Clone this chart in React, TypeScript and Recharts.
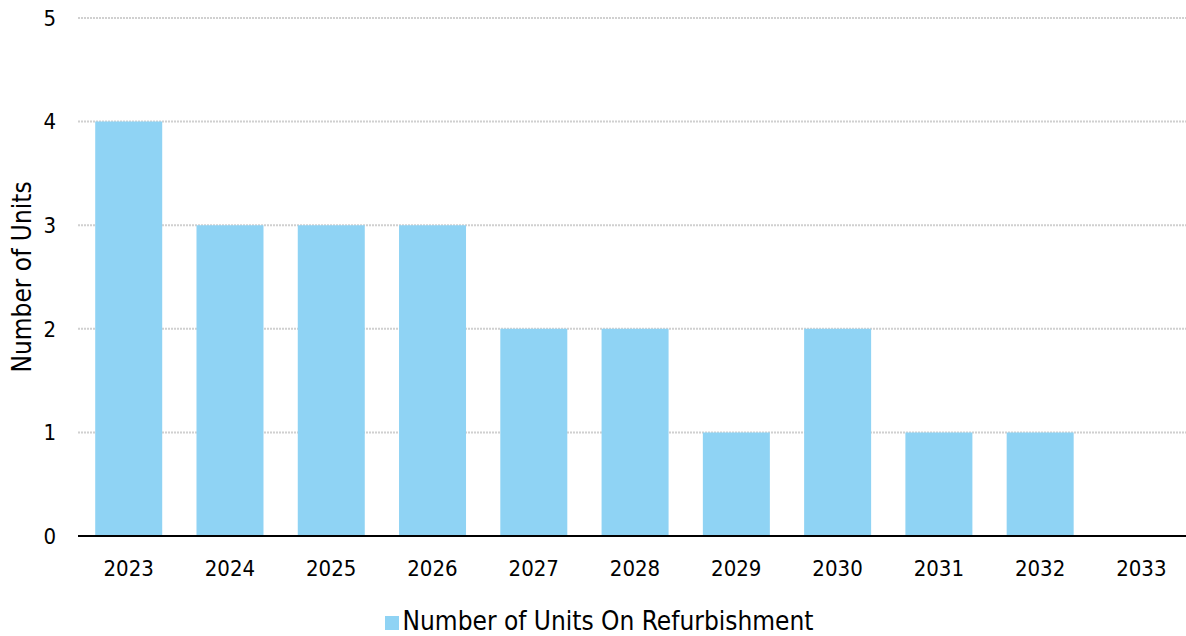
import React from "react";
import {
  BarChart,
  Bar,
  XAxis,
  YAxis,
  CartesianGrid,
  Legend,
} from "recharts";

const years = [
  "2023", "2024", "2025", "2026", "2027", "2028",
  "2029", "2030", "2031", "2032", "2033",
];
const unitsOnRefurbishment = [4, 3, 3, 3, 2, 2, 1, 2, 1, 1, 0];
const yTicks = [0, 1, 2, 3, 4, 5];

const data = years.map((year, i) => ({
  year,
  units: unitsOnRefurbishment[i],
}));

const font = "'DejaVu Sans Condensed', 'DejaVu Sans', sans-serif";

export default function App() {
  return (
    <div
      style={{
        position: "absolute",
        left: 0,
        top: 0,
        width: 1186,
        height: 636,
        overflow: "hidden",
        fontFamily: font,
      }}
    >
      <BarChart
        width={1192}
        height={636}
        data={data}
        margin={{ top: 18, right: 0, bottom: 0, left: 0 }}
        barCategoryGap="17%"
      >
        <CartesianGrid
          vertical={false}
          stroke="#d0d0d0"
          strokeWidth={2}
          strokeDasharray="2 1"
        />
        <XAxis
          dataKey="year"
          tickLine={false}
          axisLine={{ stroke: "#000", strokeWidth: 2 }}
          tick={{ fill: "#000", fontSize: 22, fontFamily: font }}
          tickMargin={18}
          height={70}
        />
        <YAxis
          domain={[0, 5]}
          ticks={yTicks}
          tickLine={false}
          axisLine={false}
          tickSize={0}
          tickMargin={22}
          width={78}
          tick={{ fill: "#000", fontSize: 22, fontFamily: font }}
          label={{
            value: "Number of Units",
            angle: -90,
            position: "insideLeft",
            offset: 0,
            dx: 22,
            style: { fill: "#000", fontSize: 26, fontFamily: font, textAnchor: "middle" },
          }}
        />
        <Legend
          verticalAlign="bottom"
          iconType="square"
          iconSize={14}
          wrapperStyle={{ fontSize: 26, fontFamily: font, color: "#000", paddingLeft: 8 }}
          formatter={(value) => <span style={{ color: "#000" }}>{value}</span>}
        />
        <Bar
          dataKey="units"
          name="Number of Units On Refurbishment"
          fill="#8fd3f4"
          isAnimationActive={false}
        />
      </BarChart>
    </div>
  );
}
